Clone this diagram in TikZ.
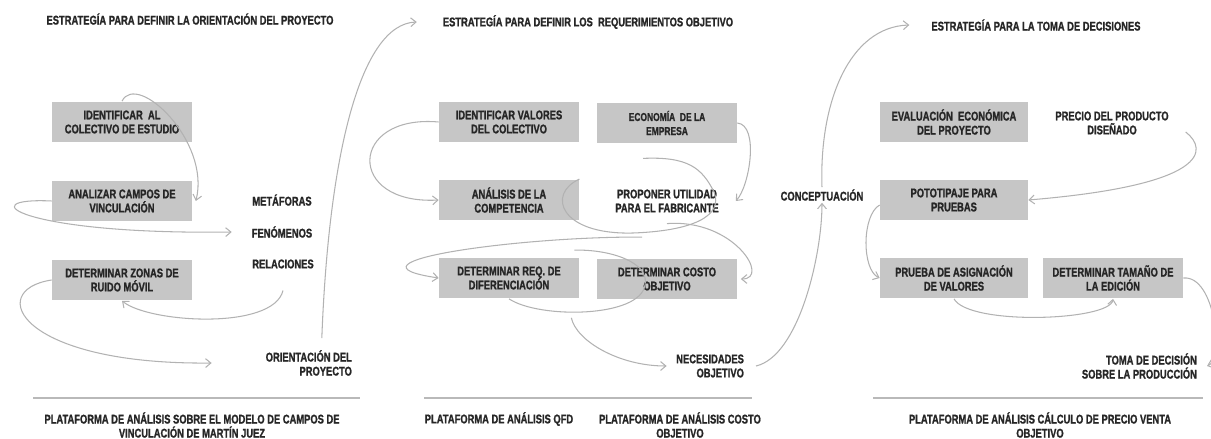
\documentclass[tikz,border=0pt]{standalone}
\usepackage{fontspec}
\setmainfont{Liberation Sans}[FakeStretch=0.74, BoldFont={Liberation Sans Bold}, BoldFeatures={FakeBold=1.2}]
\usetikzlibrary{arrows.meta, positioning, calc}

\begin{document}
\begin{tikzpicture}[x=0.02cm, y=-0.02cm,
    caja/.style={fill=gray!45, minimum width=2.8cm, minimum height=0.82cm, inner sep=1pt,
                 align=center, font=\bfseries\fontsize{7.2}{8}\selectfont, text=black!85},
    texto/.style={align=center, inner sep=1pt, font=\bfseries\fontsize{7.2}{8}\selectfont, text=black!85},
    titulo/.style={texto, font=\bfseries\fontsize{7.2}{8}\selectfont},
    flecha/.style={draw=gray!60, line width=0.6pt, -{Straight Barb[length=3pt, width=5pt]}},
    curva/.style={draw=gray!60, line width=0.6pt},
    base/.style={draw=gray!55, line width=1.2pt}]
  \useasboundingbox (0,0) rectangle (1211,439);

  % titulos
  \node[titulo] (tit1) at (190,19) {ESTRATEGÍA PARA DEFINIR LA ORIENTACIÓN DEL PROYECTO};
  \node[titulo] (tit2) at (588,22) {ESTRATEGÍA PARA DEFINIR LOS\ \ REQUERIMIENTOS OBJETIVO};
  \node[titulo] (tit3) at (1036,25) {ESTRATEGÍA PARA LA TOMA DE DECISIONES};

  % orientacion del proyecto
  \node[caja] (idcol) at (122,122) {IDENTIFICAR\ \ AL\\COLECTIVO DE ESTUDIO};
  \node[caja] (ancam) at (122,201) {ANALIZAR CAMPOS DE\\VINCULACIÓN};
  \node[caja] (zonas) at (122,280) {DETERMINAR ZONAS DE\\RUIDO MÓVIL};
  \node[texto] (metaf) at (282,200) {METÁFORAS};
  \node[texto] (fenom) at (282,232) {FENÓMENOS};
  \node[texto] (relac) at (283,264) {RELACIONES};
  \node[texto, align=right, anchor=east] (orient) at (354,363) {ORIENTACIÓN DEL\\PROYECTO};

  % requerimientos objetivo
  \node[caja] (valores) at (509,122) {IDENTIFICAR VALORES\\DEL COLECTIVO};
  \node[caja, font=\bfseries\fontsize{6.5}{8}\selectfont] (econ) at (667,123) {ECONOMÍA\ \ DE LA\\EMPRESA};
  \node[caja] (compet) at (509,200) {ANÁLISIS DE LA\\COMPETENCIA};
  \node[texto] (propon) at (667,201) {PROPONER UTILIDAD\\PARA EL FABRICANTE};
  \node[caja] (difer) at (509,278) {DETERMINAR REQ. DE\\DIFERENCIACIÓN};
  \node[caja] (costo) at (667,279) {DETERMINAR COSTO\\OBJETIVO};
  \node[texto, align=right, anchor=east] (necesid) at (746,366) {NECESIDADES\\OBJETIVO};
  \node[texto] (concep) at (822,195) {CONCEPTUACIÓN};

  % toma de decisiones
  \node[caja, minimum width=2.96cm] (evalua) at (954,122) {EVALUACIÓN\ \ ECONÓMICA\\DEL PROYECTO};
  \node[texto] (precio) at (1112,123) {PRECIO DEL PRODUCTO\\DISEÑADO};
  \node[caja, minimum width=2.96cm] (pototip) at (954,200) {POTOTIPAJE PARA\\PRUEBAS};
  \node[caja, minimum width=2.96cm] (prueba) at (954,278) {PRUEBA DE ASIGNACIÓN\\DE VALORES};
  \node[caja] (tamano) at (1113,278) {DETERMINAR TAMAÑO DE\\LA EDICIÓN};
  \node[texto, align=right, anchor=east] (toma) at (1199,366) {TOMA DE DECISIÓN\\SOBRE LA PRODUCCIÓN};

  % plataformas
  \draw[base] (33,398) -- (360,398);
  \draw[base] (424,398) -- (752,398);
  \draw[base] (873,398) -- (1203,398);
  \node[titulo] (plat1) at (192,425) {PLATAFORMA DE ANÁLISIS SOBRE EL MODELO DE CAMPOS DE\\VINCULACIÓN DE MARTÍN JUEZ};
  \node[titulo] (plat2) at (499,419) {PLATAFORMA DE ANÁLISIS QFD};
  \node[titulo] (plat3) at (680,425) {PLATAFORMA DE ANÁLISIS COSTO\\OBJETIVO};
  \node[titulo] (plat4) at (1040,425) {PLATAFORMA DE ANÁLISIS CÁLCULO DE PRECIO VENTA\\OBJETIVO};

  % conectores
  \draw[flecha] (idcol.north) .. controls +(15,-30) and +(15,-60) .. ([xshift=2pt]ancam.east);
  \draw[flecha] (ancam.west) .. controls +(-82,-4) and +(-212,3) .. ([xshift=-0.36cm]fenom.west);
  \draw[flecha] ([yshift=-0.4cm]relac.south) .. controls +(-10,40) and +(27,22) .. (zonas.south);
  \draw[flecha] (zonas.west) .. controls +(-67,10) and +(-193,2) .. ([xshift=-1.04cm]orient.west);
  \draw[flecha] ([xshift=0.26cm,yshift=0.2cm]orient.north) .. controls +(7,-185) and +(-56,2) .. ([xshift=-0.48cm]tit2.west);

  \draw[flecha] (valores.west) .. controls +(-90,-8) and +(-93,5) .. (compet.west);
  \draw[flecha] ([xshift=-0.5cm,yshift=-0.45cm]propon.south) .. controls +(-120,-1) and +(-108,-16) .. (difer.west);
  \draw[curva] (compet.north east) .. controls +(-33,15) and +(-73,2) .. (633,233)
               .. controls +(57,-2) and +(10,25) .. (714,192)
               .. controls +(-12,-24) and +(45,-2) .. ([xshift=-0.48cm,yshift=0.58cm]propon.north);
  \draw[flecha] (econ.east) .. controls +(22,2) and +(14,-15) .. ([xshift=0.3cm]propon.east);
  \draw[flecha] ([yshift=-0.18cm]propon.south) .. controls +(67,-5) and +(30,0) .. ([xshift=2pt]costo.east);
  \draw[curva] (difer.south) .. controls +(30,20) and +(-5,33) .. (645,285)
               .. controls +(5,-23) and +(35,-1) .. ([xshift=-0.1cm,yshift=0.14cm]difer.north east);
  \draw[flecha] ([xshift=-0.16cm,yshift=-0.38cm]difer.south east) .. controls +(5,23) and +(-48,0) .. ([xshift=-0.15cm]necesid.west);
  \draw[flecha] ([xshift=0.2cm]necesid.east) .. controls +(43,-10) and +(0,52) .. (concep.south);
  \draw[flecha] (concep.north) .. controls +(-3,-85) and +(-60,2) .. ([xshift=-0.4cm]tit3.west);

  \draw[flecha] ([yshift=-0.1cm]pototip.west) .. controls +(-18,10) and +(-18,-8) .. (prueba.west);
  \draw[flecha] ([xshift=0.3cm,yshift=-0.18cm]precio.east) .. controls +(23,18) and +(180,-15) .. (pototip.east);
  \draw[flecha] (prueba.south) .. controls +(15,27) and +(-3,22) .. (tamano.south);
  \draw[flecha] (tamano.east) .. controls +(32,-3) and +(17,-6) .. ([xshift=0.16cm]toma.east);
\end{tikzpicture}
\end{document}
